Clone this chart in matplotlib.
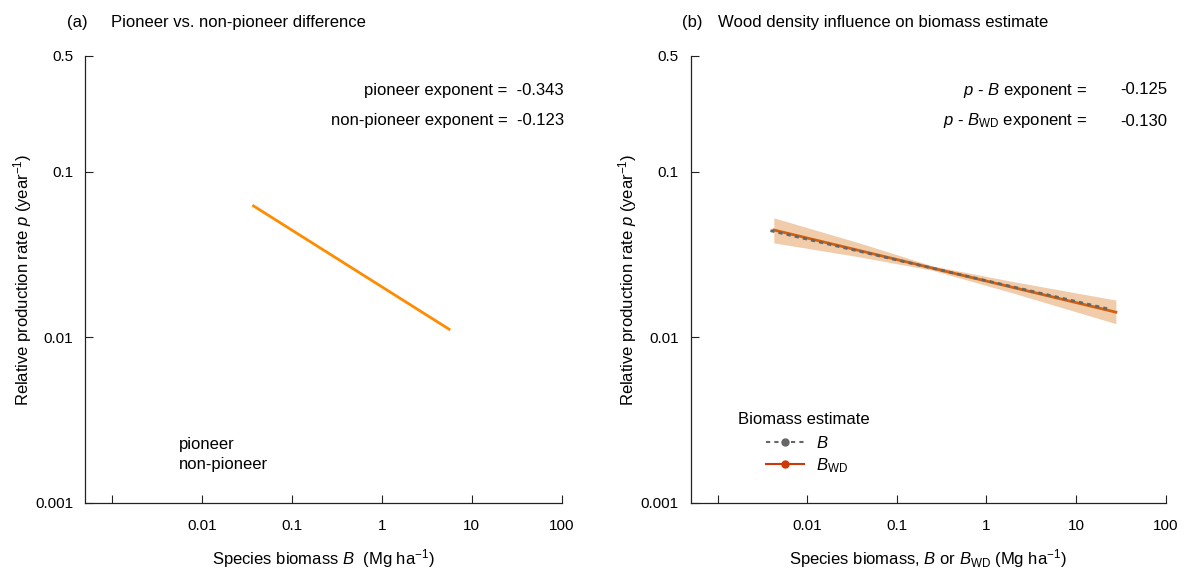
import matplotlib
matplotlib.use("Agg")
import matplotlib.pyplot as plt
from matplotlib.lines import Line2D

plt.rcParams['font.family'] = ['Liberation Sans', 'DejaVu Sans']
plt.rcParams['mathtext.fontset'] = 'custom'
plt.rcParams['mathtext.rm'] = 'Liberation Sans'
plt.rcParams['mathtext.it'] = 'Liberation Sans:italic'
plt.rcParams['mathtext.bf'] = 'Liberation Sans:bold'

# ---- data ----
pioneer_x = [0.0374, 5.6]
pioneer_y = [0.0622, 0.0112]

b_x = [0.00388, 22.2]
b_y = [0.0441, 0.0149]

bwd_x = [0.00423, 27.8]
bwd_y = [0.0445, 0.0142]

band_x = [0.00423, 0.0386, 0.25, 2.0, 27.8]
band_lo = [0.0372, 0.0306, 0.0254, 0.0185, 0.0121]
band_hi = [0.0527, 0.0371, 0.0270, 0.0217, 0.0168]

x_ticks = [0.001, 0.01, 0.1, 1, 10, 100]
x_ticklabels = ["", "0.01", "0.1", "1", "10", "100"]
y_ticks = [0.001, 0.01, 0.1, 0.5]
y_ticklabels = ["0.001", "0.01", "0.1", "0.5"]

exps_a = ["-0.343", "-0.123"]
exps_b = ["-0.125", "-0.130"]

FS = 12
TFS = 11
W, H = 1184, 570
fig = plt.figure(figsize=(W / 100, H / 100), dpi=100)

def px_axes(l, r, t, b):
    return fig.add_axes([l / W, 1 - b / H, (r - l) / W, (b - t) / H])

def style(ax):
    ax.set_xscale('log')
    ax.set_yscale('log')
    ax.set_xlim(0.0005, 100)
    ax.set_ylim(0.001, 0.5)
    ax.spines['top'].set_visible(False)
    ax.spines['right'].set_visible(False)
    for s in ['left', 'bottom']:
        ax.spines[s].set_linewidth(0.9)
        ax.spines[s].set_color('#222222')
    ax.set_xticks(x_ticks)
    ax.set_xticklabels(x_ticklabels)
    ax.set_yticks(y_ticks)
    ax.set_yticklabels(y_ticklabels)
    ax.minorticks_off()
    ax.tick_params(direction='in', length=6, width=0.8, color='#222222',
                   labelsize=TFS)
    ax.tick_params(axis='y', pad=8.5)
    ax.tick_params(axis='x', pad=11.5)
    ax.patch.set_alpha(0)

axa = px_axes(85, 561.7, 56, 503)
axb = px_axes(690.7, 1165.7, 56, 503)
style(axa)
style(axb)

ylab = "Relative production rate $p$ (year$^{-1}$)"

# panel a
axa.plot(pioneer_x, pioneer_y, color='#FF8C00', lw=2)
axa.set_ylabel(ylab, fontsize=FS)
axa.set_xlabel("Species biomass $B$  (Mg ha$^{-1}$)", fontsize=FS)
axa.yaxis.set_label_coords((34 - 85) / 476.7, 0.5)
axa.xaxis.set_label_coords(0.5, (503 - 547) / 447)
fig.text(67 / W, 1 - 23 / H, "(a)", fontsize=FS, va='center')
fig.text(111 / W, 1 - 23 / H, "Pioneer vs. non-pioneer difference", fontsize=FS, va='center')
fig.text(564 / W, 1 - 90 / H, "pioneer exponent =  " + exps_a[0], fontsize=FS, ha='right', va='center')
fig.text(564 / W, 1 - 121 / H, "non-pioneer exponent =  " + exps_a[1], fontsize=FS, ha='right', va='center')
fig.text(179 / W, 1 - 445 / H, "pioneer", fontsize=FS, va='center')
fig.text(179 / W, 1 - 465 / H, "non-pioneer", fontsize=FS, va='center')

# panel b
axb.fill_between(band_x, band_lo, band_hi, color='#F1CCAA', lw=0)
axb.plot(bwd_x, bwd_y, color='#D2600F', lw=2)
axb.plot(b_x, b_y, color='#666666', lw=2, dashes=(1.5, 1.5))
axb.set_ylabel(ylab, fontsize=FS)
axb.set_xlabel("Species biomass, $B$ or $B_{\\mathrm{WD}}$ (Mg ha$^{-1}$)", fontsize=FS)
axb.yaxis.set_label_coords((639 - 690.7) / 475, 0.5)
axb.xaxis.set_label_coords(0.5, (503 - 547) / 447)
fig.text(682 / W, 1 - 23 / H, "(b)", fontsize=FS, va='center')
fig.text(718 / W, 1 - 23 / H, "Wood density influence on biomass estimate", fontsize=FS, va='center')
fig.text(1087 / W, 1 - 90 / H, "$p$ - $B$ exponent =", fontsize=FS, ha='right', va='center')
fig.text(1087 / W, 1 - 121 / H, "$p$ - $B_{\\mathrm{WD}}$ exponent =", fontsize=FS, ha='right', va='center')
fig.text(1167 / W, 1 - 90 / H, exps_b[0], fontsize=FS, ha='right', va='center')
fig.text(1167 / W, 1 - 121 / H, exps_b[1], fontsize=FS, ha='right', va='center')

# legend for panel b
axb.text((738 - 690.7) / 475, (503 - 419) / 447, "Biomass estimate", fontsize=FS,
         transform=axb.transAxes, va='center', ha='left')
handles = [
    Line2D([], [], color='#666666', lw=1.5, dashes=(2, 2), marker='o', markersize=5),
    Line2D([], [], color='#CC3A0A', lw=1.5, marker='o', markersize=5),
]
leg = axb.legend(handles, ["$B$", "$B_{\\mathrm{WD}}$"],
                 loc='upper left', bbox_to_anchor=((766 - 690.7) / 475, (503 - 435) / 447),
                 frameon=False, fontsize=FS, numpoints=1, borderpad=0,
                 handlelength=2.3, handletextpad=0.7, labelspacing=0.3, borderaxespad=0)

fig.savefig("out.png", dpi=100)
